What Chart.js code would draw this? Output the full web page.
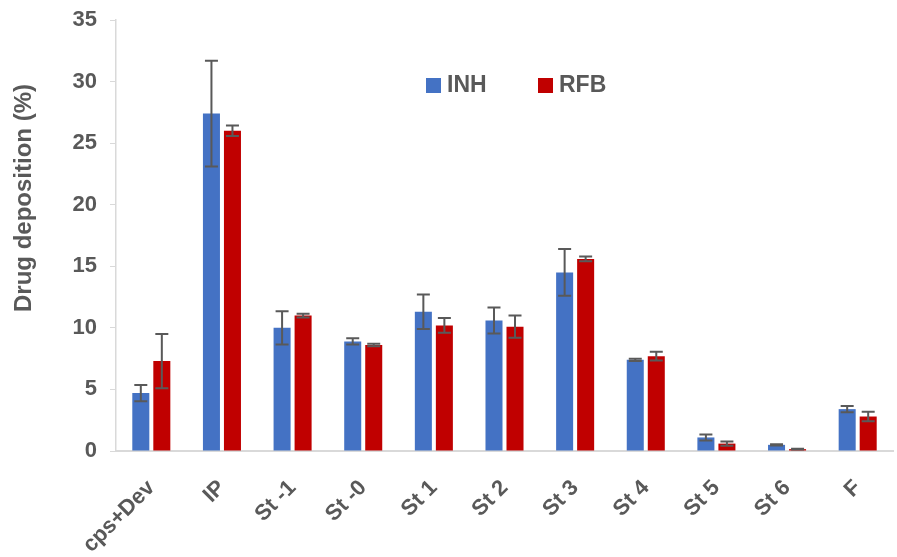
<!DOCTYPE html>
<html>
<head>
<meta charset="utf-8">
<title>Drug deposition</title>
<script src="https://cdn.jsdelivr.net/npm/chart.js@4"></script>
<style>
  html, body { margin: 0; padding: 0; background: #fff; }
  #wrap { width: 897px; height: 557px; position: relative; }
</style>
</head>
<body>
<div id="wrap"><canvas id="depositionChart"></canvas></div>
<script>
// stages of the impactor
const stages = ['cps+Dev', 'IP', 'St -1', 'St -0', 'St 1', 'St 2', 'St 3', 'St 4', 'St 5', 'St 6', 'F'];

// mean deposition (%) per stage
const inhValues = [4.7, 27.4, 10.0, 8.9, 11.3, 10.6, 14.5, 7.4, 1.1, 0.5, 3.4];
const rfbValues = [7.3, 26.0, 11.0, 8.6, 10.2, 10.1, 15.6, 7.7, 0.6, 0.15, 2.8];

// standard deviations
const inhErrors = [0.65, 4.3, 1.35, 0.25, 1.4, 1.05, 1.9, 0.1, 0.25, 0.05, 0.25];
const rfbErrors = [2.2, 0.43, 0.15, 0.1, 0.6, 0.9, 0.2, 0.35, 0.17, 0.03, 0.38];

const yTicks = [0, 5, 10, 15, 20, 25, 30, 35];

const textGrey = '#595959';
const axisGrey = '#d9d9d9';
const fontFamily = '"Liberation Sans", Arial, sans-serif';

// draws the error bars on top of each bar
const errorBars = {
    id: 'errorBars',
    afterDatasetsDraw(chart) {
        const ctx = chart.ctx;
        const y = chart.scales.y;
        ctx.save();
        ctx.strokeStyle = textGrey;
        ctx.lineWidth = 2;
        chart.data.datasets.forEach((ds, i) => {
            const meta = chart.getDatasetMeta(i);
            meta.data.forEach((bar, j) => {
                const v = ds.data[j];
                const e = ds.errors[j];
                const top = y.getPixelForValue(v + e);
                const bottom = y.getPixelForValue(v - e);
                const x = bar.x;
                ctx.beginPath();
                ctx.moveTo(x, top);
                ctx.lineTo(x, bottom);
                ctx.moveTo(x - 6.5, top);
                ctx.lineTo(x + 6.5, top);
                ctx.moveTo(x - 6.5, bottom);
                ctx.lineTo(x + 6.5, bottom);
                ctx.stroke();
            });
        });
        ctx.restore();
    }
};

// legend and axis title placed like in the original
const labelsPlugin = {
    id: 'labelsPlugin',
    afterDraw(chart) {
        const ctx = chart.ctx;
        const items = [
            { label: 'INH', color: chart.data.datasets[0].backgroundColor, x: 426 },
            { label: 'RFB', color: chart.data.datasets[1].backgroundColor, x: 538 }
        ];
        ctx.save();
        ctx.font = 'bold 23px ' + fontFamily;
        ctx.textBaseline = 'middle';
        items.forEach(it => {
            ctx.fillStyle = it.color;
            ctx.fillRect(it.x, 78, 15, 15);
            ctx.fillStyle = textGrey;
            ctx.fillText(it.label, it.x + 21, 86);
        });

        // y axis title
        ctx.translate(24, 198);
        ctx.rotate(-Math.PI / 2);
        ctx.font = 'bold 24px ' + fontFamily;
        ctx.textAlign = 'center';
        ctx.fillText('Drug deposition (%)', 0, 0);
        ctx.restore();
    }
};

const ctx = document.getElementById('depositionChart').getContext('2d');
const depositionChart = new Chart(ctx, {
    type: 'bar',
    data: {
        labels: stages,
        datasets: [{
            label: 'INH',
            data: inhValues,
            errors: inhErrors,
            backgroundColor: '#4472c4',
            categoryPercentage: 0.595,
            barPercentage: 0.81
        }, {
            label: 'RFB',
            data: rfbValues,
            errors: rfbErrors,
            backgroundColor: '#c00000',
            categoryPercentage: 0.595,
            barPercentage: 0.81
        }]
    },
    options: {
        responsive: true,
        maintainAspectRatio: false,
        animation: false,
        layout: {
            padding: { top: 20, right: 4, left: 8, bottom: 0 }
        },
        plugins: {
            legend: { display: false },
            tooltip: { enabled: false }
        },
        scales: {
            x: {
                grid: { display: false },
                border: { color: axisGrey, width: 2 },
                ticks: {
                    color: textGrey,
                    font: { family: fontFamily, size: 22, weight: 'bold' },
                    minRotation: 45,
                    maxRotation: 45,
                    padding: 16
                },
                afterFit(scale) { scale.height = 106; }
            },
            y: {
                min: 0,
                max: 35,
                afterBuildTicks(scale) {
                    scale.ticks = yTicks.map(v => ({ value: v }));
                },
                grid: {
                    drawOnChartArea: false,
                    color: axisGrey,
                    tickLength: 6
                },
                border: { color: axisGrey, width: 1.5 },
                ticks: {
                    color: textGrey,
                    font: { family: fontFamily, size: 22, weight: 'bold' },
                    padding: 13
                },
                afterFit(scale) {
                    scale.width = 108;
                    scale.paddingTop = 0;
                    scale.paddingBottom = 0;
                }
            }
        }
    },
    plugins: [errorBars, labelsPlugin]
});
</script>
</body>
</html>
